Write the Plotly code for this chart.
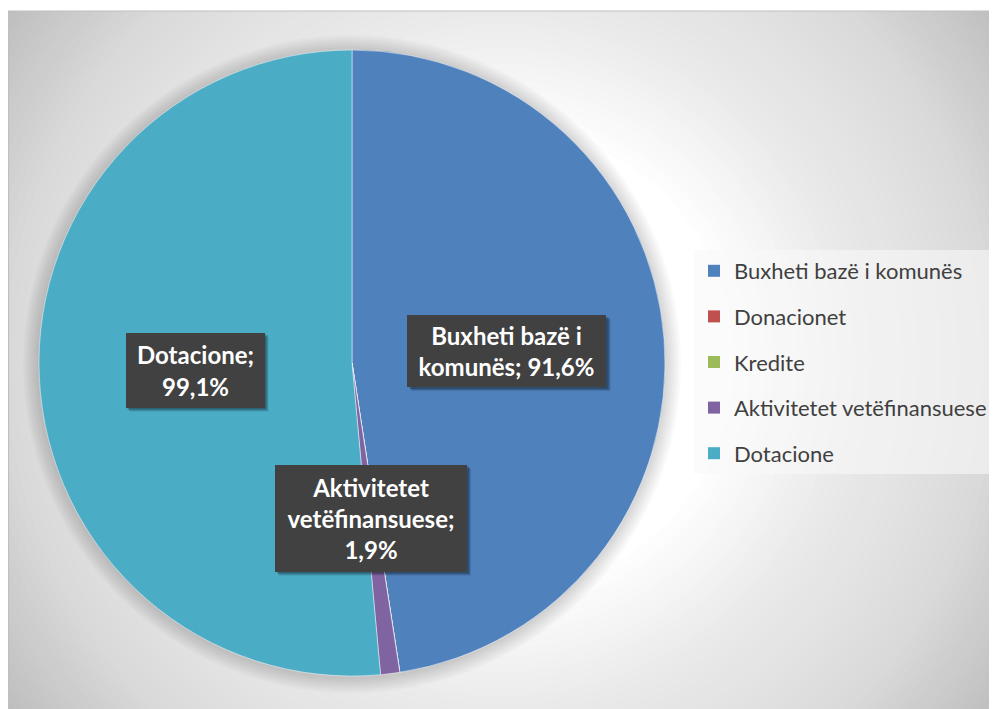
import plotly.graph_objects as go

# ---- data ----
categories = ["Buxheti bazë i komunës", "Donacionet", "Kredite",
              "Aktivitetet vetëfinansuese", "Dotacione"]
values = [91.6, 0.0, 0.0, 1.9, 99.1]
colors = ["#4F81BD", "#C0504D", "#9BBB59", "#8064A2", "#4BACC6"]
# wrapped label lines for the shown data labels (category index -> lines)
label_wrap = {0: ["Buxheti bazë i", "komunës;"],
              3: ["Aktivitetet", "vetëfinansuese;", ""],
              4: ["Dotacione;", ""]}

# the page body adds an 8px margin; work in screen pixels and convert
OFF = 8
W, H = 997 - OFF, 709 - OFF


def px(x):
    return (x - OFF) / W


def py(y):
    return 1 - (y - OFF) / H


def fmt(v):
    return f"{v:.1f}%".replace(".", ",")


def label_text(i):
    lines = list(label_wrap[i])
    if lines[-1] == "":
        lines[-1] = fmt(values[i])
    else:
        lines[-1] = lines[-1] + " " + fmt(values[i])
    return "<br>".join(lines)


# pie geometry (screen pixels)
pcx, pcy, pr = 352, 363, 313

fig = go.Figure()
fig.add_trace(go.Pie(
    labels=categories, values=values, sort=False, direction="clockwise",
    rotation=0, textinfo="none", hoverinfo="label+value",
    marker=dict(colors=colors, line=dict(color="rgba(255,255,255,0.45)", width=1)),
    domain=dict(x=[px(pcx - pr), px(pcx + pr)],
                y=[py(pcy + pr), py(pcy - pr)]),
    showlegend=False,
))

# legend entries as empty marker traces (one group each for spacing)
for name, col in zip(categories, colors):
    fig.add_trace(go.Scatter(
        x=[None], y=[None], mode="markers", name=name, legendgroup=name,
        marker=dict(symbol="square", size=12, color=col), showlegend=True))

shapes = []
# radial background gradient
gcx, gcy = 502, 360


def gval(d):
    if d <= 230:
        return 255
    if d <= 345:
        return 255 - (d - 230) * (20 / 115)
    if d <= 490:
        return 235 - (d - 345) * (17 / 145)
    return max(190, 218 - (d - 490) * (28 / 120))


for d in range(640, 220, -8):
    g = int(round(gval(d)))
    shapes.append(dict(type="circle", xref="paper", yref="paper",
                       x0=px(gcx - d), x1=px(gcx + d),
                       y0=py(gcy + d), y1=py(gcy - d),
                       fillcolor=f"rgb({g},{g},{g})", line=dict(width=0),
                       layer="below"))
# pie soft shadow
for k in range(16, 0, -2):
    r = pr + k
    shapes.append(dict(type="circle", xref="paper", yref="paper",
                       x0=px(pcx - r), x1=px(pcx + r),
                       y0=py(pcy + r + 1), y1=py(pcy - r + 1),
                       fillcolor="rgba(0,0,0,0.018)", line=dict(width=0),
                       layer="below"))
# white page margin above the chart frame, and frame border
fy0 = 11
shapes.append(dict(type="rect", xref="paper", yref="paper",
                   x0=-0.01, x1=1.01, y0=py(fy0), y1=1.01,
                   fillcolor="white", line=dict(width=0), layer="below"))
shapes.append(dict(type="rect", xref="paper", yref="paper",
                   x0=px(8.5), x1=1.005, y0=-0.005, y1=py(fy0),
                   fillcolor="rgba(0,0,0,0)", line=dict(width=1.2, color="#BFBFBF"),
                   layer="below"))

# data label boxes (center x, center y, width, height) in screen pixels
boxes = {0: (507, 351, 199, 72), 3: (371, 518, 192, 107), 4: (195, 370, 139, 75)}
annotations = []
for i, (bx, by, bw, bh) in boxes.items():
    for off, a in ((4, 0.12), (3, 0.15), (2, 0.2)):
        shapes.append(dict(type="rect", xref="paper", yref="paper",
                           x0=px(bx - bw / 2 + off), x1=px(bx + bw / 2 + off),
                           y0=py(by + bh / 2 + off), y1=py(by - bh / 2 + off),
                           fillcolor=f"rgba(0,0,0,{a})", line=dict(width=0),
                           layer="above"))
    annotations.append(dict(
        text="<b>" + label_text(i) + "</b>", xref="paper", yref="paper",
        x=px(bx), y=py(by), xanchor="center", yanchor="middle",
        showarrow=False, width=bw, height=bh, borderpad=0, borderwidth=0,
        bgcolor="#414141", align="center", valign="middle",
        font=dict(family="Lato, Carlito, Calibri, sans-serif", size=24, color="white")))

fig.update_layout(
    width=W, height=H,
    margin=dict(l=0, r=0, t=0, b=0),
    paper_bgcolor="white", plot_bgcolor="rgba(0,0,0,0)",
    xaxis=dict(visible=False), yaxis=dict(visible=False),
    shapes=shapes, annotations=annotations,
    showlegend=True,
    legend=dict(x=px(694), y=py(250), xanchor="left", yanchor="top",
                bgcolor="rgba(248,248,248,0.6)", borderwidth=0,
                tracegroupgap=14, itemclick=False,
                font=dict(family="Lato, Carlito, Calibri, sans-serif", size=22, color="#404040")),
)

fig.write_html("out.html")
